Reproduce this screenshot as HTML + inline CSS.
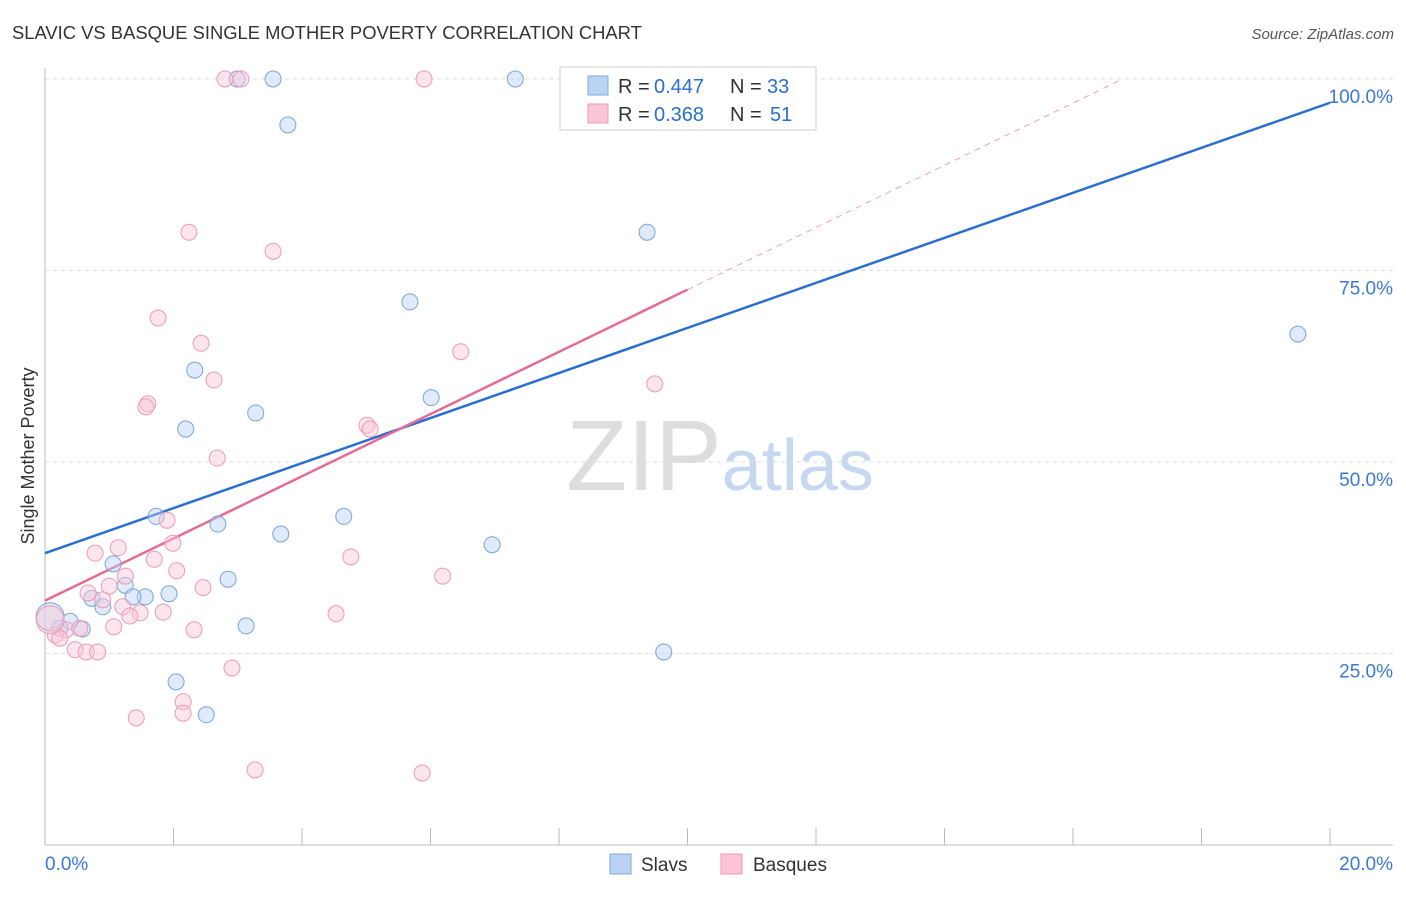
<!DOCTYPE html>
<html><head><meta charset="utf-8"><style>
body{margin:0;background:#fff;font-family:"Liberation Sans",sans-serif}
svg text{font-family:"Liberation Sans",sans-serif}
</style></head><body>
<svg id="chart" width="1406" height="892" viewBox="0 0 1406 892">
<text x="12" y="39" font-size="18.4" fill="#333">SLAVIC VS BASQUE SINGLE MOTHER POVERTY CORRELATION CHART</text>
<text x="1394" y="39" font-size="15" fill="#555" text-anchor="end" font-style="italic">Source: ZipAtlas.com</text>
<text transform="translate(34,456) rotate(-90)" font-size="18" fill="#333" text-anchor="middle">Single Mother Poverty</text>
<text x="720" y="490" font-size="100" text-anchor="middle" fill="#ddd" font-family="Liberation Serif,serif">ZIP<tspan fill="#c5d8ef" font-family="Liberation Sans,sans-serif" font-size="72">atlas</tspan></text>
<g id="grid"></g><g id="axes"></g><g id="lines"></g><g id="points"></g>
<g>
<rect x="560" y="67" width="256" height="63" fill="#fff" stroke="#ccc"/>
<rect x="588" y="76" width="20" height="19" fill="#b8d3f3" stroke="#7fa9dd"/>
<rect x="588" y="104" width="20" height="19" fill="#fac6d6" stroke="#ea9ab4"/>
<text x="618" y="93" font-size="20" fill="#333">R =</text><text x="654" y="93" font-size="20" fill="#2a6fd0">0.447</text>
<text x="730" y="93" font-size="20" fill="#333">N =</text><text x="767" y="93" font-size="20" fill="#2a6fd0">33</text>
<text x="618" y="121" font-size="20" fill="#333">R =</text><text x="654" y="121" font-size="20" fill="#2a6fd0">0.368</text>
<text x="730" y="121" font-size="20" fill="#333">N =</text><text x="770" y="121" font-size="20" fill="#2a6fd0">51</text>
</g>
<g>
<rect x="610" y="854" width="21" height="20" fill="#b8d3f3" stroke="#7fa9dd"/>
<text x="641" y="871" font-size="19" fill="#333">Slavs</text>
<rect x="721" y="854" width="21" height="20" fill="#fac6d6" stroke="#ea9ab4"/>
<text x="753" y="871" font-size="19" fill="#333">Basques</text>
</g>
</svg>
<script>
const slavX=[2.99,3.55,7.32,9.85,3.78,9.37,5.68,19.5,2.33,6.01,3.28,2.19,1.73,2.69,4.65,3.67,6.96,1.06,1.25,2.85,0.73,1.56,1.93,1.37,0.9,0.39,0.23,0.58,3.13,9.63,2.04,2.51,0.08];
const slavY=[100,100,100,100,94,80,70.9,66.7,62,58.4,56.4,54.3,42.9,41.9,42.9,40.6,39.2,36.7,33.9,34.7,32.2,32.4,32.8,32.4,31.1,29.2,28.3,28.2,28.6,25.2,21.3,17,29.8];
const basqX=[2.8,3.05,5.9,2.24,3.55,1.76,2.43,6.47,2.63,9.49,1.6,1.57,5.01,5.06,2.68,1.9,1.99,1.14,0.78,4.76,1.7,2.05,1.25,6.19,1.0,2.46,0.67,0.9,1.21,1.48,1.32,1.84,4.53,1.07,2.32,0.33,0.16,0.23,0.54,0.47,0.64,0.82,2.91,2.15,2.15,1.42,3.27,5.87,0.08];
const basqY=[100,100,100,80,77.5,68.8,65.5,64.4,60.7,60.2,57.6,57.2,54.8,54.3,50.5,42.4,39.4,38.8,38.1,37.6,37.3,35.8,35.1,35.1,33.8,33.6,32.9,32,31.1,30.3,29.9,30.4,30.2,28.5,28.1,28.1,27.4,27,28.3,25.5,25.2,25.2,23.1,18.7,17.2,16.6,9.8,9.4,29.4];
const yTicks=[25,50,75,100];
const yTickLabels=["25.0%","50.0%","75.0%","100.0%"];
const xTickLabels=["0.0%","20.0%"];
const slavTrend=[38.1,96.9];
const basqTrend=[31.9,72.5];
const NS="http://www.w3.org/2000/svg";
const sx=v=>45+v*64.25, sy=v=>845-v*7.66;
function mk(p,t,a){const e=document.createElementNS(NS,t);for(const k in a)e.setAttribute(k,a[k]);document.getElementById(p).appendChild(e);return e;}
yTicks.forEach((t,i)=>{
 const g=mk('grid','line',{x1:45,x2:1393,y1:sy(t),y2:sy(t),stroke:'#ddd','stroke-dasharray':'4 4'});
 
 
 const l=mk('grid','text',{x:1393,y:sy(t)+24,'font-size':19,fill:'#3b78d6','text-anchor':'end'});
 l.textContent=yTickLabels[i];
 
 
});
const ax=mk('axes','line',{x1:45,x2:45,y1:68,y2:845,stroke:'#bbb'});


const bx=mk('axes','line',{x1:45,x2:1393,y1:845,y2:845,stroke:'#bbb'});


for(let v=2;v<=20;v+=2){const t=mk('axes','line',{x1:sx(v),x2:sx(v),y1:828,y2:845,stroke:'#bbb'});
 
 }
const xl0=mk('axes','text',{x:45,y:870,'font-size':19,fill:'#3b78d6'});xl0.textContent=xTickLabels[0];


const xl1=mk('axes','text',{x:1393,y:870,'font-size':19,fill:'#3b78d6','text-anchor':'end'});xl1.textContent=xTickLabels[1];


function pts(X,Y,fill,stroke,name){X.forEach((x,i)=>{const big=(i===X.length-1);
 const c=mk('points','circle',{cx:sx(x),cy:sy(Y[i]),r:big?14:8,fill:fill,'fill-opacity':0.45,stroke:stroke,'stroke-width':1});
 
 });}
pts(slavX,slavY,'#b8d3f3','#7aa3da','slavs-point');
pts(basqX,basqY,'#fac6d6','#eb9ab5','basques-point');
const s=(basqTrend[1]-basqTrend[0])/10;
const d=mk('lines','line',{x1:sx(10),y1:sy(basqTrend[1]),x2:sx((100-basqTrend[0])/s),y2:sy(100),stroke:'#eaa2b9','stroke-dasharray':'6 5','stroke-width':1});


const lb=mk('lines','line',{x1:sx(0),y1:sy(slavTrend[0]),x2:sx(20),y2:sy(slavTrend[1]),stroke:'#2a6fd0','stroke-width':2.5});


const lp=mk('lines','line',{x1:sx(0),y1:sy(basqTrend[0]),x2:sx(10),y2:sy(basqTrend[1]),stroke:'#e56b94','stroke-width':2.5});


</script>
</body></html>
